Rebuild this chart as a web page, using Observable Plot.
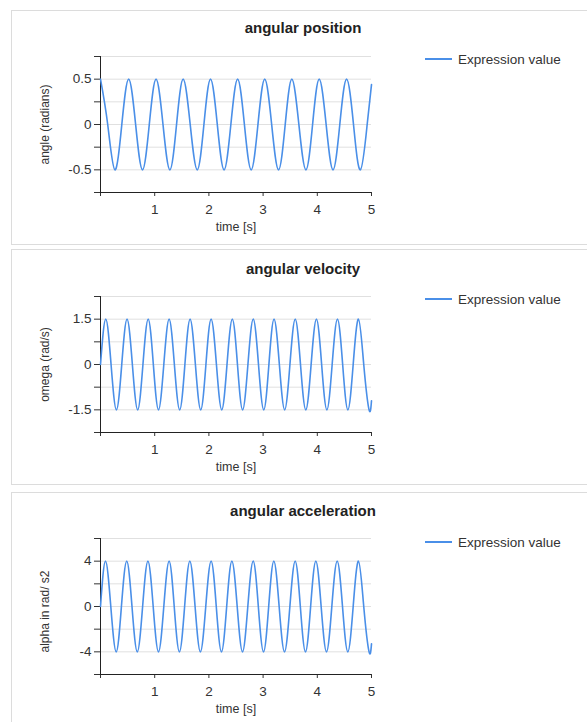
<!DOCTYPE html>
<html>
<head>
<meta charset="utf-8">
<script src="https://cdn.jsdelivr.net/npm/d3@7"></script>
<script src="https://cdn.jsdelivr.net/npm/@observablehq/plot@0.6"></script>
<style>
  html, body { margin: 0; padding: 0; background: #fff; }
  body { position: relative; width: 587px; height: 722px; overflow: hidden; font-family: "Liberation Sans", Arial, sans-serif; }
  .panel { position: absolute; left: 11px; width: 600px; border: 1px solid #dcdcdc; box-sizing: border-box; }
  .title { position: absolute; left: 0; width: 606px; text-align: center; font-weight: bold; font-size: 15px; line-height: 15px; color: #222; white-space: nowrap; }
  .legend { position: absolute; left: 425px; height: 16px; display: flex; align-items: center; font-size: 13.5px; color: #333; white-space: nowrap; }
  .legend .swatch { width: 27px; height: 2px; margin-right: 6px; }
  .chart { position: absolute; left: 0; }
</style>
</head>
<body>
<script>
// ---- data ----
const timeTicks = [0, 1, 2, 3, 4, 5];

// angular position (radians)
const posTime = [0, 0.133, 0.265, 0.393, 0.52, 0.648, 0.775, 0.9, 1.025, 1.153, 1.28, 1.403, 1.525, 1.655, 1.785, 1.908, 2.03, 2.155, 2.28, 2.405, 2.53, 2.655, 2.78, 2.905, 3.03, 3.158, 3.285, 3.408, 3.53, 3.66, 3.79, 3.913, 4.035, 4.163, 4.29, 4.415, 4.54, 4.668, 4.795, 4.92, 5.0];
const posValue = [0.5, 0, -0.5, 0, 0.5, 0, -0.5, 0, 0.5, 0, -0.5, 0, 0.5, 0, -0.5, 0, 0.5, 0, -0.5, 0, 0.5, 0, -0.5, 0, 0.5, 0, -0.5, 0, 0.5, 0, -0.5, 0, 0.5, 0, -0.5, 0, 0.5, 0, -0.5, 0, 0.44];
const posGrid = [-0.75, -0.5, -0.25, 0, 0.25, 0.5, 0.75];
const posLabels = [-0.5, 0, 0.5];

// angular velocity (rad/s)
const velTime = [0, 0.097, 0.195, 0.294, 0.392, 0.49, 0.588, 0.686, 0.783, 0.88, 0.975, 1.07, 1.168, 1.266, 1.363, 1.461, 1.557, 1.653, 1.751, 1.849, 1.945, 2.041, 2.139, 2.237, 2.334, 2.432, 2.527, 2.622, 2.72, 2.818, 2.915, 3.012, 3.107, 3.202, 3.3, 3.398, 3.495, 3.593, 3.69, 3.788, 3.886, 3.984, 4.08, 4.177, 4.274, 4.372, 4.468, 4.564, 4.662, 4.76, 4.857, 4.955, 5.0];
const velValue = [0, 1.5, 0, -1.5, 0, 1.5, 0, -1.5, 0, 1.5, 0, -1.5, 0, 1.5, 0, -1.5, 0, 1.5, 0, -1.5, 0, 1.5, 0, -1.5, 0, 1.5, 0, -1.5, 0, 1.5, 0, -1.5, 0, 1.5, 0, -1.5, 0, 1.5, 0, -1.5, 0, 1.5, 0, -1.5, 0, 1.5, 0, -1.5, 0, 1.5, 0, -1.5, -1.2];
const velGrid = [-2.25, -1.5, -0.75, 0, 0.75, 1.5, 2.25];
const velLabels = [-1.5, 0, 1.5];

// angular acceleration (rad/s2)
const accTime = [0, 0.092, 0.19, 0.29, 0.386, 0.484, 0.581, 0.679, 0.777, 0.875, 0.972, 1.07, 1.168, 1.266, 1.36, 1.456, 1.552, 1.648, 1.745, 1.843, 1.942, 2.041, 2.136, 2.232, 2.328, 2.424, 2.522, 2.62, 2.718, 2.817, 2.912, 3.008, 3.103, 3.198, 3.296, 3.395, 3.494, 3.592, 3.687, 3.782, 3.877, 3.973, 4.071, 4.17, 4.268, 4.367, 4.465, 4.563, 4.662, 4.76, 4.857, 4.955, 5.0];
const accValue = [0, 4, 0, -4, 0, 4, 0, -4, 0, 4, 0, -4, 0, 4, 0, -4, 0, 4, 0, -4, 0, 4, 0, -4, 0, 4, 0, -4, 0, 4, 0, -4, 0, 4, 0, -4, 0, 4, 0, -4, 0, 4, 0, -4, 0, 4, 0, -4, 0, 4, 0, -4, -3.3];
const accGrid = [-6, -4, -2, 0, 2, 4, 6];
const accLabels = [-4, 0, 4];

const panels = [
  {title: "angular position", yLabel: "angle (radians)", time: posTime, value: posValue, grid: posGrid, labels: posLabels, panelTop: 10, panelHeight: 235, titleTop: 19.6, legendTop: 51, svgTop: 30, labelDy: 0},
  {title: "angular velocity", yLabel: "omega (rad/s)", time: velTime, value: velValue, grid: velGrid, labels: velLabels, panelTop: 249, panelHeight: 236, titleTop: 260.6, legendTop: 291, svgTop: 270, labelDy: 0},
  {title: "angular acceleration", yLabel: "alpha in rad/ s2", time: accTime, value: accValue, grid: accGrid, labels: accLabels, panelTop: 492, panelHeight: 240, titleTop: 503, legendTop: 534, svgTop: 512, labelDy: 5}
];

const lineColor = "#4a8fe8";
const fmt = d => String(d);

for (const p of panels) {
  const box = document.createElement("div");
  box.className = "panel";
  box.style.top = p.panelTop + "px";
  box.style.height = p.panelHeight + "px";
  document.body.appendChild(box);

  const t = document.createElement("div");
  t.className = "title";
  t.style.top = p.titleTop + "px";
  t.textContent = p.title;
  document.body.appendChild(t);

  const lg = document.createElement("div");
  lg.className = "legend";
  lg.style.top = p.legendTop + "px";
  lg.innerHTML = `<span class="swatch" style="background:${lineColor}"></span><span>Expression value</span>`;
  document.body.appendChild(lg);

  const data = p.time.map((x, i) => ({t: x, v: p.value[i]}));
  const yMin = p.grid[0], yMax = p.grid[p.grid.length - 1];

  const chart = Plot.plot({
    width: 390,
    height: 210,
    marginLeft: 100,
    marginRight: 19,
    marginTop: 26,
    marginBottom: 48,
    style: {fontFamily: "'Liberation Sans', Arial, sans-serif", fontSize: "13.5px", color: "#333", background: "transparent", overflow: "visible"},
    x: {domain: [0, 5], axis: null},
    y: {domain: [yMin, yMax], axis: null},
    marks: [
      Plot.ruleY(p.grid, {stroke: "#e0e0e0", strokeWidth: 1}),
      Plot.axisY({ticks: p.grid, tickSize: 6, tickPadding: 3, tickFormat: d => p.labels.includes(d) ? fmt(d) : "", label: null, stroke: "#333"}),
      Plot.axisX({ticks: timeTicks, tickSize: 4, tickPadding: 8, tickFormat: d => d === 0 ? "" : fmt(d), label: null, stroke: "#333"}),
      Plot.ruleX([0], {stroke: "#222", strokeWidth: 1}),
      Plot.ruleY([yMin], {stroke: "#222", strokeWidth: 1}),
      Plot.line(data, {x: "t", y: "v", stroke: lineColor, strokeWidth: 1.6, curve: "natural"}),
      Plot.text(["time [s]"], {frameAnchor: "bottom", lineAnchor: "bottom", dy: 38, fontSize: 12.5, fill: "#333"}),
      Plot.text([p.yLabel], {frameAnchor: "left", textAnchor: "middle", rotate: -90, dx: -55, dy: p.labelDy, fontSize: 12, fill: "#333"})
    ]
  });
  const wrap = document.createElement("div");
  wrap.className = "chart";
  wrap.style.top = p.svgTop + "px";
  wrap.appendChild(chart);
  document.body.appendChild(wrap);
}
</script>
</body>
</html>
